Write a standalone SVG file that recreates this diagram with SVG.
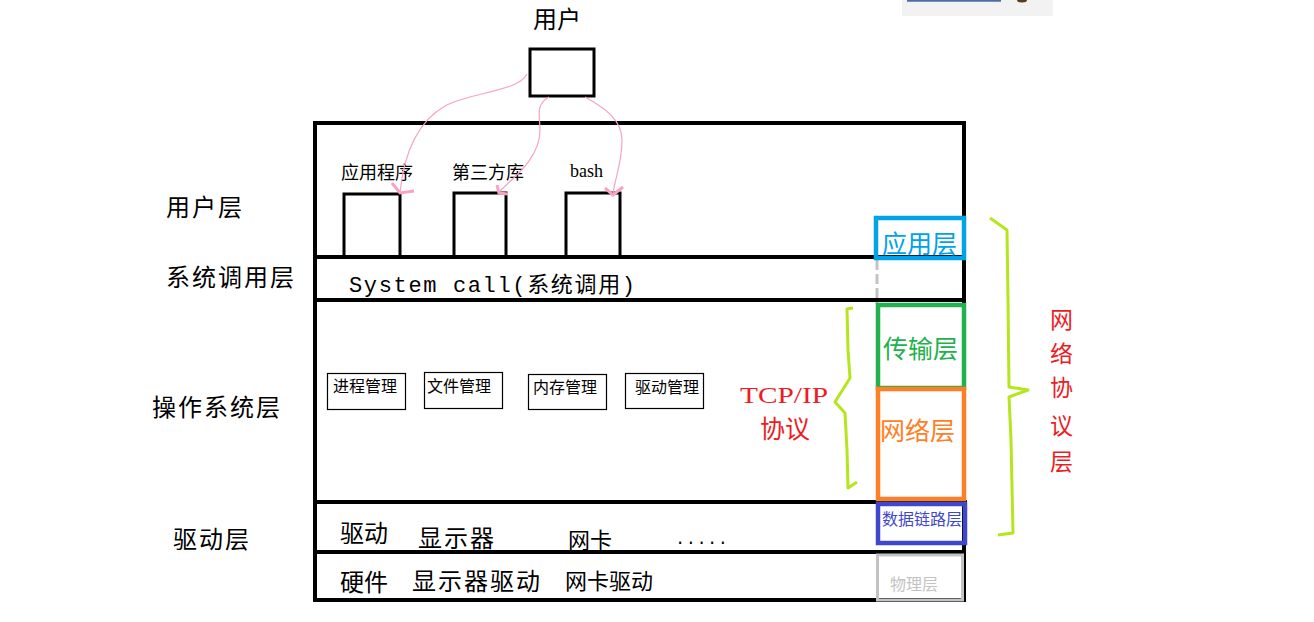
<svg xmlns="http://www.w3.org/2000/svg" width="1314" height="622" viewBox="0 0 1314 622">
<style>
.cjk{font-family:"Noto Sans CJK SC","Noto Sans",sans-serif;dominant-baseline:central;}
.lbl{font-size:24px;fill:#000;letter-spacing:2px;}
.sm{font-size:18px;fill:#000;}
.os{font-size:16px;fill:#000;}
.frame{stroke:#000;stroke-width:4;fill:none;}
.box3{stroke:#000;stroke-width:3;fill:none;}
.box1{stroke:#000;stroke-width:1.2;fill:none;}
.pink{stroke:#f7a3c4;stroke-width:1.2;fill:none;}
.pinkhead{stroke:#f7a3c4;stroke-width:3;fill:none;}
.brace{stroke:#b5e61d;stroke-width:3;fill:none;stroke-linejoin:round;}
.red{fill:#ed1c24;}
.vt{font-size:23px;}
</style>

<g id="artifact">
<rect x="902" y="0" width="151" height="16" fill="#f2f2f2"/>
<line x1="907" y1="0.8" x2="1001" y2="0.8" stroke="#4d6ea5" stroke-width="2"/>
<ellipse cx="1022" cy="0" rx="5" ry="2.5" fill="#5a3a1a"/>
</g>

<g id="frame">
<line class="frame" x1="313" y1="123" x2="966" y2="123"/>
<line class="frame" x1="315" y1="121" x2="315" y2="602"/>
<line class="frame" x1="964" y1="121" x2="964" y2="601"/>
<line class="frame" x1="315" y1="257" x2="964" y2="257"/>
<line class="frame" x1="315" y1="300" x2="966" y2="300"/>
<line class="frame" x1="313" y1="502" x2="967" y2="502"/>
<line class="frame" x1="313" y1="552" x2="966" y2="552"/>
<line class="frame" x1="313" y1="600" x2="966" y2="600"/>
</g>

<g id="user">
<text class="cjk" x="533" y="17" font-size="24">用户</text>
<rect class="box3" x="530" y="49" width="64" height="47"/>
</g>

<g id="left-labels">
<text class="cjk lbl" x="166" y="205">用户层</text>
<text class="cjk lbl" x="166" y="275">系统调用层</text>
<text class="cjk lbl" x="152" y="405">操作系统层</text>
<text class="cjk lbl" x="173" y="537">驱动层</text>
</g>

<g id="app">
<text class="cjk sm" x="341" y="171">应用程序</text>
<rect class="box3" x="344" y="194" width="56" height="63"/>
</g>
<g id="lib">
<text class="cjk sm" x="452" y="171">第三方库</text>
<rect class="box3" x="454" y="193" width="52" height="64"/>
</g>
<g id="bash">
<text x="570" y="177" font-family="Liberation Serif, serif" font-size="18" fill="#000">bash</text>
<rect class="box3" x="566" y="193" width="54" height="64"/>
</g>

<g id="syscall">
<text x="349" y="286" textLength="286" lengthAdjust="spacing" font-family="Liberation Mono, Noto Sans CJK SC, monospace" font-size="22" fill="#000" dominant-baseline="central">System call(系统调用)</text>
</g>

<g id="os-modules">
<g id="proc"><rect class="box1" x="327.5" y="373.5" width="78" height="36"/><text class="cjk os" x="333" y="385">进程管理</text></g>
<g id="file"><rect class="box1" x="424.5" y="372.5" width="78" height="36"/><text class="cjk os" x="427" y="385">文件管理</text></g>
<g id="mem"><rect class="box1" x="528.5" y="374.5" width="78" height="35"/><text class="cjk os" x="533" y="386">内存管理</text></g>
<g id="drv"><rect class="box1" x="625.5" y="373.5" width="78" height="35"/><text class="cjk os" x="635" y="386">驱动管理</text></g>
</g>

<g id="driver-layer">
<text class="cjk" x="340" y="531" font-size="24">驱动</text>
<text class="cjk" x="418" y="536" font-size="24" letter-spacing="2">显示器</text>
<text class="cjk" x="568" y="538" font-size="22">网卡</text>
<text x="675" y="544" font-family="Liberation Mono, monospace" font-size="17" fill="#000" letter-spacing="0.5">.....</text>
</g>

<g id="hardware-layer">
<text class="cjk" x="340" y="580" font-size="24">硬件</text>
<text class="cjk" x="412" y="579" font-size="24" letter-spacing="2">显示器驱动</text>
<text class="cjk" x="565" y="579" font-size="22">网卡驱动</text>
</g>

<g id="net-layers">
<line x1="877" y1="260" x2="877" y2="304" stroke="#c3c3c3" stroke-width="3" stroke-dasharray="10 4"/>
<g id="l-app"><rect x="876" y="218" width="88" height="40" fill="none" stroke="#00a2e8" stroke-width="4.5"/><text class="cjk" x="882" y="242" font-size="25" fill="#00a2e8">应用层</text></g>
<g id="l-trans"><rect x="878" y="305" width="86" height="83" fill="none" stroke="#22b14c" stroke-width="4.5"/><text class="cjk" x="883" y="347" font-size="25" fill="#22b14c">传输层</text></g>
<g id="l-net"><rect x="878" y="389" width="86" height="110" fill="none" stroke="#ff7f27" stroke-width="4.5"/><text class="cjk" x="880" y="429" font-size="25" fill="#ff7f27">网络层</text></g>
<g id="l-link"><rect x="878" y="504" width="87" height="39" fill="none" stroke="#3f48cc" stroke-width="4.5"/><text class="cjk" x="882" y="518" font-size="16" fill="#3f48cc">数据链路层</text></g>
<g id="l-phys"><rect x="877.5" y="555" width="85" height="45" fill="none" stroke="#c3c3c3" stroke-width="3"/><text class="cjk" x="890" y="583" font-size="16" fill="#c3c3c3">物理层</text></g>
</g>

<g id="tcpip">
<text x="740" y="395" textLength="88" lengthAdjust="spacingAndGlyphs" font-family="Liberation Serif, serif" font-size="24" class="red" dominant-baseline="central">TCP/IP</text>
<text class="cjk red" x="760" y="427" font-size="25">协议</text>
</g>

<g id="netproto">
<text class="cjk red vt" x="1050" y="318">网</text>
<text class="cjk red vt" x="1050" y="352">络</text>
<text class="cjk red vt" x="1050" y="386">协</text>
<text class="cjk red vt" x="1050" y="424">议</text>
<text class="cjk red vt" x="1050" y="460">层</text>
</g>

<g id="connectors">
<path class="pink" d="M527,74 C518,92 470,92 445,106 C420,120 404,150 400,193"/>
<polyline class="pinkhead" points="392,183 400,193 414,191"/>
<path class="pink" d="M549,97 C535,105 540,115 540,130 C540,160 510,180 498,193"/>
<polyline class="pinkhead" points="497,185 499,193 508,194"/>
<path class="pink" d="M585,97 C605,108 622,120 622,140 C622,165 614,180 613,195"/>
<polyline class="pinkhead" points="605,188 613,195 623,187"/>
<polyline class="brace" points="853,308 847,309 848,350 850,378 835,402 845,413 847,450 848,488 857,482"/>
<polyline class="brace" points="990,218 1007,230 1008,300 1009,387 1028,390 1009,397 1011,440 1013,533 998,535"/>
</g>
</svg>
